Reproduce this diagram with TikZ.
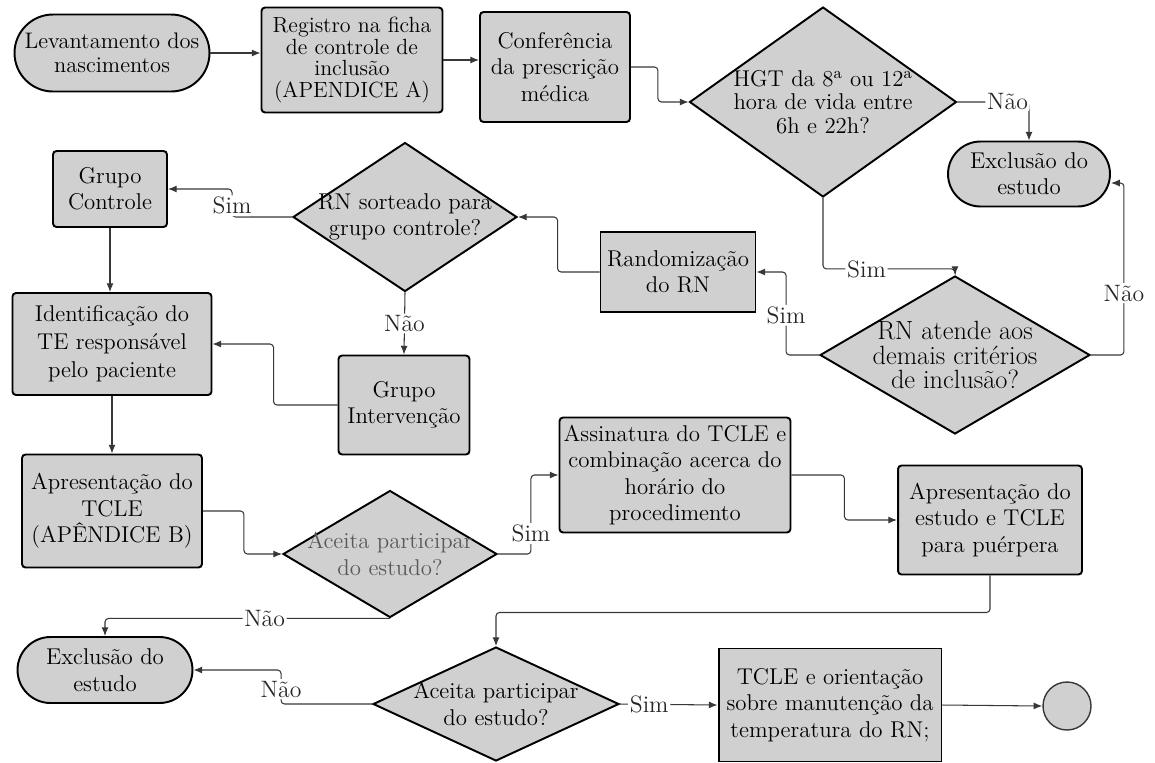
\documentclass[tikz,border=0pt]{standalone}
\usetikzlibrary{arrows.meta,shapes.geometric}
\definecolor{boxgray}{RGB}{208,208,208}
\definecolor{linegray}{RGB}{55,55,55}

\begin{document}
\begin{tikzpicture}[x=0.02cm,y=-0.02cm,
        every node/.style={font=\fontsize{13}{15}\selectfont, align=center},
        proc/.style={draw, line width=1.1pt, fill=boxgray, rounded corners=2pt, inner sep=2pt},
        plain/.style={draw, line width=1.1pt, fill=boxgray, inner sep=2pt},
        term/.style={draw, line width=1.1pt, fill=boxgray, inner sep=2pt},
        decision/.style={diamond, draw, line width=1.1pt, fill=boxgray, inner sep=-40pt},
        lbl/.style={fill=white, inner sep=1pt, text=black!85, font=\fontsize{13.5}{15}\selectfont},
        arr/.style={-{Latex[length=5pt,width=4pt]}, line width=0.6pt, draw=linegray, rounded corners=2pt}]
        \useasboundingbox (0,0) rectangle (1155,762);

        % top row
        \node[term, minimum width=3.9cm, minimum height=1.54cm, rounded corners=0.77cm, font=\fontsize{12.8}{14}\selectfont] (lev) at (112,53) {Levantamento dos\\nascimentos};
        \node[proc, minimum width=3.62cm, minimum height=2.1cm, font=\fontsize{12.5}{12.5}\selectfont] (reg) at (352,60) {Registro na ficha\\de controle de\\inclusão\\(APENDICE A)};
        \node[proc, minimum width=3cm, minimum height=2.2cm] (conf) at (555,67) {Conferência\\da prescrição\\médica};
        \node[decision, minimum width=5.34cm, minimum height=3.8cm, font=\fontsize{13}{13.5}\selectfont] (hgt) at (823,102) {HGT da 8\textsuperscript{a} ou 12\textsuperscript{a}\\hora de vida entre\\6h e 22h?};
        \node[term, minimum width=3.24cm, minimum height=1.3cm, rounded corners=0.65cm] (exc1) at (1029,174) {Exclusão do\\estudo};

        % middle
        \node[decision, minimum width=5.4cm, minimum height=3.16cm, font=\fontsize{15}{14}\selectfont] (rnat) at (955,355) {RN atende aos\\demais critérios\\de inclusão?};
        \node[plain, minimum width=3.1cm, minimum height=1.6cm] (rand) at (678,272) {Randomização\\do RN};
        \node[decision, minimum width=4.48cm, minimum height=2.98cm] (sort) at (405,217) {RN sorteado para\\grupo controle?};
        \node[proc, minimum width=2.28cm, minimum height=1.52cm] (gc) at (110,189) {Grupo\\Controle};
        \node[proc, minimum width=3.98cm, minimum height=2.04cm, font=\fontsize{13}{16}\selectfont] (ident) at (112,344) {Identificação do\\TE responsável\\pelo paciente};
        \node[proc, minimum width=2.62cm, minimum height=1.98cm] (gi) at (404,405) {Grupo\\Intervenção};

        % lower part
        \node[proc, minimum width=3.6cm, minimum height=2.26cm] (apres) at (112,511) {Apresentação do\\TCLE\\(APÊNDICE B)};
        \node[decision, minimum width=4.28cm, minimum height=2.54cm, text=black!65] (ac1) at (390,554) {Aceita participar\\do estudo?};
        \node[proc, minimum width=4.62cm, minimum height=2.3cm] (assin) at (675,475) {Assinatura do TCLE e\\combinação acerca do\\horário do\\procedimento};
        \node[proc, minimum width=3.68cm, minimum height=2.18cm] (apest) at (990,520) {Apresentação do\\estudo e TCLE\\para puérpera};
        \node[term, minimum width=3.5cm, minimum height=1.32cm, rounded corners=0.66cm] (exc2) at (105,670) {Exclusão do\\estudo};
        \node[decision, minimum width=4.92cm, minimum height=2.28cm] (ac2) at (496,704) {Aceita participar\\do estudo?};
        \node[plain, minimum width=4.46cm, minimum height=2.26cm] (tcle) at (830,705) {TCLE e orientação\\sobre manutenção da\\temperatura do RN;};
        \node[circle, draw=linegray, line width=0.8pt, fill=boxgray, minimum size=0.96cm, inner sep=0pt] (endc) at (1067,706) {};

        \draw[arr] (lev.east) -- (lev.east -| reg.west);
        \draw[arr] (reg.east) -- (reg.east -| conf.west);
        \draw[arr] (conf.east) -- ++(27,0) |- (hgt.west);
        \draw[arr] (hgt.east) -| node[lbl, pos=0.35] {Não} (exc1.north);
        \draw[arr] (hgt.south) -- ++(0,71) -- node[lbl, pos=0.33] {Sim} ++(132,0) -- (rnat.north);
        \draw[arr] (rnat.east) -- ++(33,0) |- node[lbl, pos=0.18] {Não} ([yshift=-0.18cm]exc1.east);
        \draw[arr] (rnat.west) -- ++(-33,0) |- node[lbl, pos=0.24] {Sim} (rand.east);
        \draw[arr] (rand.west) -- ++(-42,0) |- (sort.east);
        \draw[arr] (sort.west) -- ++(-60,0) |- node[lbl, pos=0.2] {Sim} (gc.east);
        \draw[arr] (gc.south) -- (gc.south |- ident.north);
        \draw[arr] (sort.south) -- node[lbl] {Não} (gi.north);
        \draw[arr] (gi.west) -- ++(-64,0) |- (ident.east);
        \draw[arr] (ident.south) -- (apres.north);
        \draw[arr] (apres.east) -- ++(41,0) |- (ac1.west);
        \draw[arr] (ac1.east) -- ++(33,0) |- node[lbl, pos=0.13] {Sim} (assin.west);
        \draw[arr] (ac1.south) -| node[lbl, pos=0.22] {Não} (exc2.north);
        \draw[arr] (assin.east) -- ++(53,0) |- (apest.west);
        \draw[arr] (apest.south) -- ++(0,37) -| (ac2.north);
        \draw[arr] (ac2.west) -- ++(-91,0) |- node[lbl, pos=0.22] {Não} (exc2.east);
        \draw[arr] (ac2.east) -- node[lbl, pos=0.3] {Sim} (tcle.west);
        \draw[arr] (tcle.east) -- (endc.west);
    \end{tikzpicture}
\end{document}
